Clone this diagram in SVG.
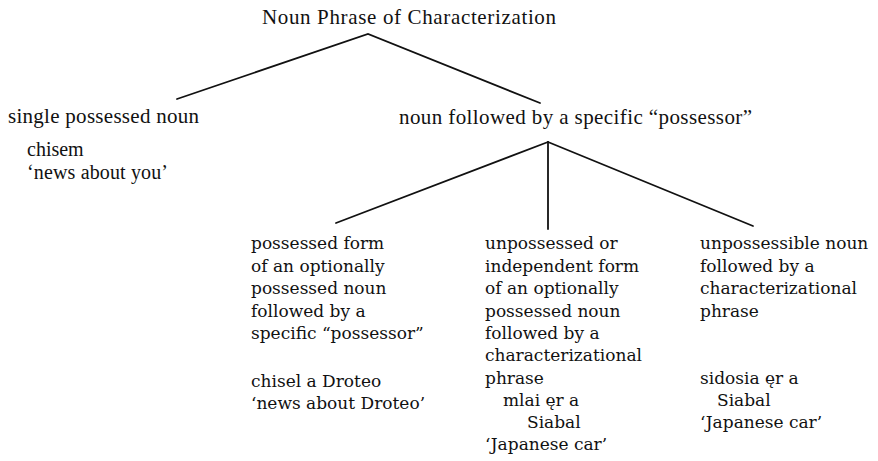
<svg xmlns="http://www.w3.org/2000/svg" width="878" height="461" viewBox="0 0 878 461">
<style>
.t{font-family:"Liberation Serif","Times New Roman",serif;font-size:21px;fill:#111}
.s{font-family:"Liberation Serif","Times New Roman",serif;font-size:20px;fill:#111}
.b{font-family:"DejaVu Serif","Liberation Serif",serif;font-size:17px;fill:#111}
.c{stroke:#111;stroke-width:1.8;fill:none;stroke-linecap:round}
</style>
<rect width="878" height="461" fill="#fff"/>
<g id="connectors">
<polyline class="c" points="177,99 368,34 540,103"/>
<line class="c" x1="548" y1="142" x2="336" y2="223"/>
<line class="c" x1="548" y1="142" x2="548" y2="229"/>
<line class="c" x1="548" y1="142" x2="753" y2="226"/>
</g>
<g id="root"><text class="t" x="262" y="24" textLength="294">Noun Phrase of Characterization</text></g>
<g id="single">
<text class="t" x="8" y="123" textLength="191">single possessed noun</text>
<text class="s" x="27" y="156">chisem</text>
<text class="s" x="27" y="179" textLength="141">‘news about you’</text>
</g>
<g id="followed"><text class="t" x="399" y="124" textLength="353">noun followed by a specific “possessor”</text></g>
<g id="possessed">
<text class="b" x="251" y="249">possessed form</text>
<text class="b" x="251" y="271.5">of an optionally</text>
<text class="b" x="251" y="294">possessed noun</text>
<text class="b" x="251" y="316.5">followed by a</text>
<text class="b" x="251" y="339">specific “possessor”</text>
<text class="b" x="251" y="386.5">chisel a Droteo</text>
<text class="b" x="251" y="409">‘news about Droteo’</text>
</g>
<g id="unpossessed">
<text class="b" x="485" y="249">unpossessed or</text>
<text class="b" x="485" y="271.5">independent form</text>
<text class="b" x="485" y="294">of an optionally</text>
<text class="b" x="485" y="316.5">possessed noun</text>
<text class="b" x="485" y="339">followed by a</text>
<text class="b" x="485" y="361">characterizational</text>
<text class="b" x="485" y="383.5">phrase</text>
<text class="b" x="503" y="406">mlai ęr a</text>
<text class="b" x="527" y="428">Siabal</text>
<text class="b" x="485" y="450">‘Japanese car’</text>
</g>
<g id="unpossessible">
<text class="b" x="700" y="249">unpossessible noun</text>
<text class="b" x="700" y="271.5">followed by a</text>
<text class="b" x="700" y="294">characterizational</text>
<text class="b" x="700" y="316.5">phrase</text>
<text class="b" x="700" y="384">sidosia ęr a</text>
<text class="b" x="717" y="406">Siabal</text>
<text class="b" x="700" y="428">‘Japanese car’</text>
</g>
</svg>
